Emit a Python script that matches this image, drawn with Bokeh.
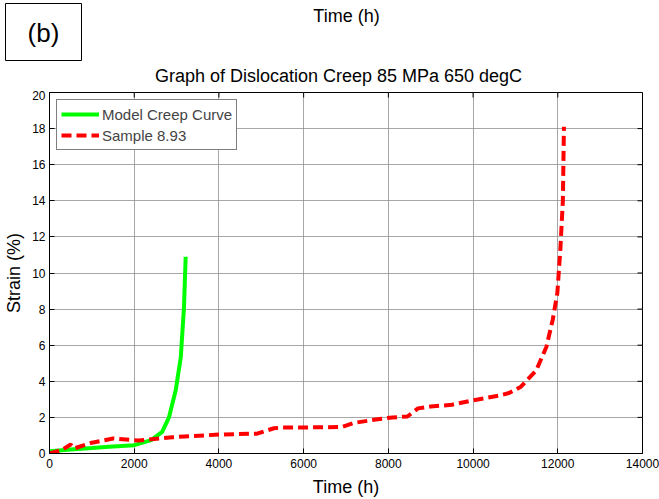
import math
from bokeh.plotting import figure
from bokeh.models import Range1d, FixedTicker, Legend, LegendItem
from bokeh.layouts import column
from bokeh.core.properties import value
from bokeh.embed import file_html
from bokeh.resources import INLINE

# Data
model_time = [0, 500, 1000, 1400, 2000, 2400, 2660, 2820, 2980, 3100, 3175, 3215]
model_strain = [0.12, 0.22, 0.30, 0.37, 0.46, 0.74, 1.2, 2.0, 3.5, 5.35, 8.1, 10.9]

sample_time = [0, 300, 500, 580, 1000, 1500, 2100, 2900, 4000, 4900, 5300, 5500, 6000,
               6900, 7200, 7700, 8100, 8450, 8700, 9000, 9500, 10000, 10600, 10850,
               11130, 11490, 11730, 11880, 11990, 12060, 12120, 12145]
sample_strain = [0, 0.2, 0.5, 0.28, 0.6, 0.83, 0.72, 0.9, 1.05, 1.1, 1.4, 1.44, 1.44,
                 1.47, 1.7, 1.88, 2.0, 2.05, 2.5, 2.6, 2.7, 2.95, 3.2, 3.35,
                 3.7, 4.6, 5.9, 7.4, 8.9, 11.3, 14.0, 18.1]

x_ticks = [0, 2000, 4000, 6000, 8000, 10000, 12000, 14000]
y_ticks = [0, 2, 4, 6, 8, 10, 12, 14, 16, 18, 20]

title_text = "Graph of Dislocation Creep 85 MPa 650 degC"
top_text = "Time (h)"
panel_text = "(b)"

FONT = "Liberation Sans"
X_MAX, Y_MAX = 14000, 20

# ---------- header strip (texts above the plot frame) ----------
head = figure(width=659, height=90, output_backend="svg", toolbar_location=None,
              x_range=Range1d(0, 659), y_range=Range1d(90, 0),
              min_border=0, min_border_left=0, min_border_right=0,
              min_border_top=0, min_border_bottom=0)
head.frame_align = False
head.axis.visible = False
head.grid.visible = False
head.outline_line_color = None
head.background_fill_color = "white"
head.border_fill_color = "white"
head.quad(left=[5], right=[81], top=[3], bottom=[60], fill_color="white",
          line_color="black", line_width=1)
head.text(x=[43], y=[32], text=[panel_text], text_align="center", text_baseline="middle",
          text_font=value(FONT), text_font_size="26px", text_color="black")
head.text(x=[346], y=[15], text=[top_text], text_align="center", text_baseline="middle",
          text_font=value(FONT), text_font_size="18px", text_color="black")
head.text(x=[338], y=[75], text=[title_text], text_align="center", text_baseline="middle",
          text_font=value(FONT), text_font_size="18px", text_color="black")

# ---------- main plot ----------
p = figure(width=659, height=409, output_backend="svg", toolbar_location=None,
           x_range=Range1d(0, X_MAX), y_range=Range1d(0, Y_MAX),
           min_border_left=49, min_border_right=17, min_border_top=2, min_border_bottom=46)
p.frame_align = False
p.background_fill_color = "white"
p.border_fill_color = "white"
p.outline_line_color = "black"
p.outline_line_width = 1

for ax in (p.xaxis[0], p.yaxis[0]):
    ax.major_tick_in = 5
    ax.major_tick_out = 0
    ax.minor_tick_line_color = None
    ax.axis_line_color = "black"
    ax.major_label_text_font = FONT
    ax.major_label_text_font_size = "12px"
    ax.major_label_text_color = "black"
    ax.axis_label_text_font = FONT
    ax.axis_label_text_font_size = "18px"
    ax.axis_label_text_font_style = "normal"
    ax.axis_label_text_color = "black"

p.xaxis[0].ticker = FixedTicker(ticks=x_ticks)
p.yaxis[0].ticker = FixedTicker(ticks=y_ticks)
p.xaxis[0].axis_label = "Time (h)"
p.yaxis[0].axis_label = "Strain (%)"
p.xaxis[0].major_label_standoff = 5
p.yaxis[0].major_label_standoff = 4
p.xaxis[0].axis_label_standoff = 6
p.yaxis[0].axis_label_standoff = 5

p.xgrid.ticker = FixedTicker(ticks=x_ticks)
p.ygrid.ticker = FixedTicker(ticks=y_ticks)
for g in (p.xgrid[0], p.ygrid[0]):
    g.grid_line_color = "#8a8a8a"
    g.grid_line_width = 1
    g.grid_line_alpha = 0.75

# inward ticks on the right and top edges (box style)
p.ray(x=[X_MAX] * len(y_ticks), y=y_ticks, length=5, length_units="screen",
      angle=math.pi, line_color="black", line_width=1)
p.ray(x=x_ticks, y=[Y_MAX] * len(x_ticks), length=5, length_units="screen",
      angle=-math.pi / 2, line_color="black", line_width=1)

r1 = p.line(model_time, model_strain, line_color="#00ff00", line_width=4)
r2 = p.line(sample_time, sample_strain, line_color="#ff0000", line_width=4, line_dash="10 5")

legend = Legend(items=[LegendItem(label="Model Creep Curve", renderers=[r1]),
                       LegendItem(label="Sample 8.93", renderers=[r2])],
                location="top_left", margin=7, padding=4, spacing=1,
                glyph_width=38, glyph_height=20, label_height=20, label_standoff=3,
                label_text_font=FONT, label_text_font_size="15px",
                border_line_color="black", border_line_width=1,
                background_fill_alpha=1.0)
p.add_layout(legend)

layout = column(head, p, spacing=0)
open("out.html", "w").write(file_html(layout, INLINE))
